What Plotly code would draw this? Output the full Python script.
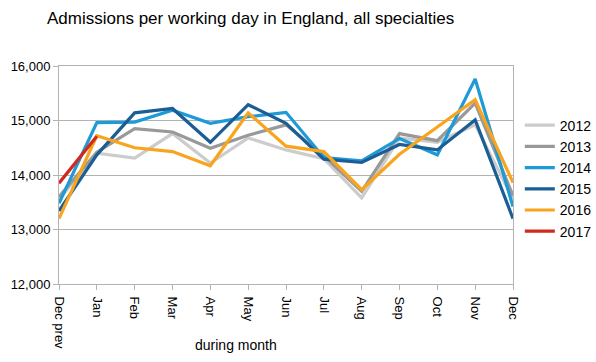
import plotly.graph_objects as go

months = ["Dec prev", "Jan", "Feb", "Mar", "Apr", "May", "Jun", "Jul", "Aug", "Sep", "Oct", "Nov", "Dec"]

y2012 = [13550, 14400, 14310, 14760, 14220, 14680, 14460, 14300, 13580, 14680, 14600, 14920, 13560]
y2013 = [13600, 14420, 14850, 14790, 14490, 14730, 14920, 14350, 13700, 14760, 14630, 15320, 13620]
y2014 = [13480, 14960, 14970, 15190, 14950, 15070, 15150, 14320, 14260, 14670, 14370, 15760, 13420]
y2015 = [13340, 14370, 15140, 15220, 14600, 15290, 14950, 14290, 14230, 14560, 14460, 15010, 13200]
y2016 = [13200, 14720, 14500, 14430, 14170, 15140, 14530, 14430, 13730, 14380, 14880, 15380, 13860]
y2017 = [13850, 14710]

series = [
    ("2012", y2012, "#cccccc"),
    ("2013", y2013, "#999999"),
    ("2014", y2014, "#1e9ad6"),
    ("2015", y2015, "#1a5e95"),
    ("2016", y2016, "#f8a51d"),
    ("2017", y2017, "#d02a1e"),
]

fig = go.Figure()
for name, vals, color in series:
    fig.add_trace(go.Scatter(
        x=months[:len(vals)], y=vals, name=name, mode="lines",
        line=dict(color=color, width=3.2),
    ))

font = "Liberation Sans, Arial, sans-serif"
fig.update_layout(
    width=596, height=362,
    margin=dict(l=59, r=83, t=66, b=78, autoexpand=False),
    paper_bgcolor="white", plot_bgcolor="white",
    font=dict(family=font, color="black", size=13),
    title=dict(text="Admissions per working day in England, all specialties",
               x=47/596, xanchor="left", y=1-18/362, yanchor="middle",
               font=dict(size=17, family=font, color="black")),
    showlegend=True,
    legend=dict(x=1.015, xanchor="left", y=0.80, yanchor="top",
                font=dict(size=14, family=font), tracegroupgap=0,
                bgcolor="rgba(0,0,0,0)"),
    xaxis=dict(type="category", range=[0, 12], tickangle=90, automargin=False,
               showgrid=False, showline=True, linecolor="#b3b3b3", linewidth=1,
               mirror=True, ticks="outside", ticklen=5, tickcolor="#b3b3b3",
               ticklabelstandoff=4,
               tickfont=dict(size=13, family=font)),
    yaxis=dict(range=[12000, 16000], dtick=1000, tickformat=",", automargin=False,
               showgrid=True, gridcolor="#b3b3b3", gridwidth=1,
               showline=True, linecolor="#b3b3b3", linewidth=1, mirror=True,
               ticks="outside", ticklen=5, tickcolor="#b3b3b3",
               zeroline=False, tickfont=dict(size=13, family=font)),
    annotations=[dict(text="during month", x=233/596, y=-(345-284)/218,
                      xref="paper", yref="paper", showarrow=False,
                      xanchor="center", yanchor="middle",
                      font=dict(size=14, family=font))],
)

fig.write_html("out.html", config={"displayModeBar": False},
               post_script="document.body.style.margin='0';")
